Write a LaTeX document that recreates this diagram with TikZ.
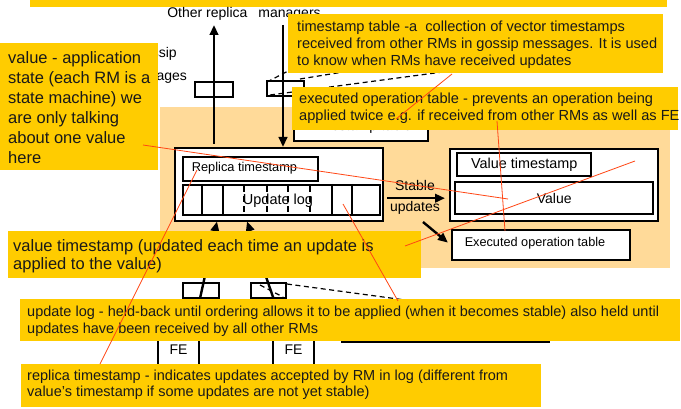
\documentclass[tikz,border=0pt]{standalone}
\usepackage{fontspec}
\setmainfont{Liberation Sans}
\usetikzlibrary{arrows.meta}
\definecolor{noteyel}{RGB}{255,204,0}
\definecolor{peach}{RGB}{255,218,153}
\definecolor{callred}{RGB}{255,70,20}
\newcommand{\myfs}[2]{\fontsize{#1}{#2}\selectfont}
\tikzset{
  box/.style={draw=black, line width=2.4pt, fill=white, inner sep=0pt},
  openbox/.style={draw=black, line width=2.4pt, inner sep=0pt},
  conn/.style={draw=black, line width=2.4pt},
  tipend/.style={-{Triangle[length=10pt,width=8.5pt]}},
  dashline/.style={draw=black, line width=1.2pt, dash pattern=on 5pt off 3.5pt},
  notebg/.style={fill=noteyel, anchor=north west, inner sep=0pt},
  notetxt/.style={anchor=west, align=left, inner sep=0pt, text=black!90},
  lbl/.style={inner sep=0pt, font=\myfs{14}{16}},
  callout/.style={draw=callred, line width=0.8pt},
}
\begin{document}
\begin{tikzpicture}[x=1pt,y=-1pt]
\useasboundingbox (0,0) rectangle (681,409);
\fill[white] (0,0) rectangle (681,409);
% background panel
\fill[peach] (160,107) rectangle (670,268);
\fill[noteyel] (30,0) rectangle (667,7);

% top labels
\node[lbl] (orm) at (244,14) {Other replica\hspace{11pt}managers};
\node[lbl, align=center, font=\myfs{14}{23}] (gossip) at (155,65.5) {Gossip\\messages};

% dashed perspective lines (top)
\draw[dashline] (267,82) -- (292,69);
\draw[dashline] (300,79) -- (380,66);
\draw[dashline] (270,95) -- (450,71);

% message boxes (top)
\node[openbox, minimum width=38pt, minimum height=15pt] (m1) at (214,89.5) {};
\node[openbox, minimum width=37pt, minimum height=15pt] (m2) at (285.5,88.5) {};

% timestamp table
\node[box, anchor=north west, minimum width=134pt, minimum height=36pt] (tst) at (293,104) {};
\node[lbl] (tstt) at (360,127) {Timestamp table};

% replica manager state
\node[box, anchor=north west, minimum width=208pt, minimum height=73pt] (rm) at (174,147) {};
\node[box, anchor=north west, minimum width=135pt, minimum height=24pt] (rts) at (182,156) {};
\node[inner sep=0pt, font=\myfs{12.8}{14}] (rtst) at (244.5,168) {Replica timestamp};
\node[box, anchor=north west, minimum width=197pt, minimum height=30pt] (ulog) at (182,184) {};
\foreach \x in {202,223,332,352} \draw[conn] (\x,184) -- (\x,214);
\foreach \x in {244,267,288,310} \draw[line width=2.4pt, dash pattern=on 6pt off 4pt] (\x,186) -- (\x,212);
\node[inner sep=0pt, font=\myfs{14.5}{16}] (ulogt) at (278,201) {Update log};

% gossip arrows
\coordinate (up1) at (214,25);
\coordinate (dn1) at (283,25);
\draw[conn, tipend] ([yshift=3pt]up1 |- rm.north) -- (up1);
\draw[conn, tipend] (dn1) -- (dn1 |- rm.north);

% value side
\node[box, anchor=north west, minimum width=208pt, minimum height=72pt] (vbox) at (449,148) {};
\node[box, anchor=north west, minimum width=134pt, minimum height=23pt, font=\myfs{14.4}{16}] (vts) at (456,152) {Value timestamp};
\node[box, anchor=north west, minimum width=198pt, minimum height=32pt, font=\myfs{14}{16}] (val) at (454,181) {Value};
\node[box, anchor=north west, minimum width=178pt, minimum height=30pt] (eot) at (451,229) {};
\node[inner sep=0pt, font=\myfs{12.7}{14}] (eott) at (535,243) {Executed operation table};

% stable updates
\node[lbl] (st) at (415,185) {Stable};
\node[lbl] (upd) at (415,208) {updates};
\draw[conn, tipend, shorten <=3pt, shorten >=9pt] (rm.east |- val.west) -- (val.west);
\coordinate (d0) at (423,222);
\draw[conn, tipend, shorten >=4pt] (d0) -- (eot.west);

% front ends
\node[box, minimum width=41pt, minimum height=60pt, font=\myfs{14}{16}] (fe1) at (178.5,350) {FE};
\node[box, minimum width=41pt, minimum height=60pt, font=\myfs{14}{16}] (fe2) at (293.5,350) {FE};
\node[openbox, minimum width=36pt, minimum height=15pt] (m3) at (201,290.5) {};
\node[openbox, minimum width=35pt, minimum height=15pt] (m4) at (268.5,290.5) {};
\coordinate (q1) at (217,221.5);
\coordinate (q2) at (247,221.5);
\draw[conn, tipend] ([xshift=17pt]fe1.north) -- (q1);
\draw[conn, tipend] ([xshift=-13pt]fe2.north) -- (q2);
\draw[dashline] (260,285) -- (283,297);
\draw[dashline] (287,284) -- (420,302);
\draw[conn] (341,342) -- (550,342);

% yellow notes
\node[notebg, minimum width=375pt, minimum height=59pt] (tsn) at (288,14) {};
\node[notetxt, font=\myfs{14.6}{17}] (tsnt) at (297,45) {timestamp table -a~ collection of vector timestamps\\received from other RMs in gossip messages. It is used\\to know when RMs have received updates};

\node[notebg, minimum width=158pt, minimum height=127pt] (vn) at (0,43) {};
\node[notetxt, font=\myfs{16.5}{20}] (vnt) at (8,108) {value - application\\state (each RM is a\\state machine) we\\are only talking\\about one value\\here};

\node[notebg, minimum width=386pt, minimum height=43pt] (en) at (292,87) {};
\node[notetxt, font=\myfs{14.6}{17}] (ent) at (299,108.5) {executed operation table - prevents an operation being\\applied twice e.g. if received from other RMs as well as FE};

\node[notebg, minimum width=413pt, minimum height=47pt] (vtn) at (8,231) {};
\node[notetxt, font=\myfs{16.5}{18}] (vtnt) at (13,256) {value timestamp (updated each time an update is\\applied to the value)};

\node[notebg, minimum width=660pt, minimum height=42pt] (un) at (20,299) {};
\node[notetxt, font=\myfs{14.5}{17}] (unt) at (27,321.5) {update log - held-back until ordering allows it to be applied (when it becomes stable) also held until\\updates have been received by all other RMs};

\node[notebg, minimum width=520pt, minimum height=43pt] (rn) at (21,364) {};
\node[notetxt, font=\myfs{14.5}{15.5}] (rnt) at (27,384.5) {replica timestamp - indicates updates accepted by RM in log (different from\\value’s timestamp if some updates are not yet stable)};

% callout pointers
\coordinate (c1a) at (143,145); \coordinate (c1b) at (508,199);
\coordinate (c2a) at (452,74);  \coordinate (c2b) at (396,119);
\coordinate (c3a) at (497,121); \coordinate (c3b) at (505,231);
\coordinate (c4a) at (405,246); \coordinate (c4b) at (635,161);
\coordinate (c5a) at (343,204); \coordinate (c5b) at (398,301);
\coordinate (c6a) at (100,364); \coordinate (c6b) at (197,170);
\draw[callout] (c1a) -- (c1b);
\draw[callout] (c2a) -- (c2b);
\draw[callout] (c3a) -- (c3b);
\draw[callout] (c4a) -- (c4b);
\draw[callout] (c5a) -- (c5b);
\draw[callout] (c6a) -- (c6b);
\end{tikzpicture}
\end{document}
